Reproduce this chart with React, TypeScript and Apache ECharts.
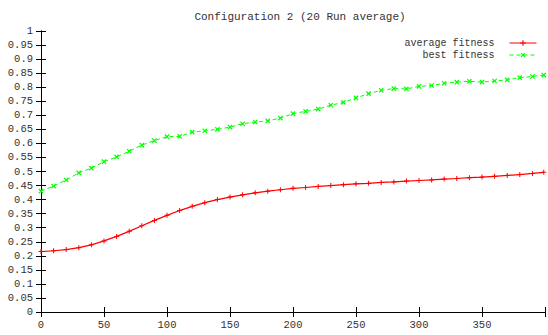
import React, { useEffect, useRef } from "react";
import * as echarts from "echarts";

const titleText = "Configuration 2 (20 Run average)";
const seriesNames = ["average fitness", "best fitness"];
const generations = [
  0, 10, 20, 30, 40, 50, 60, 70, 80, 90, 100, 110, 120, 130, 140, 150, 160, 170, 180, 190,
  200, 210, 220, 230, 240, 250, 260, 270, 280, 290, 300, 310, 320, 330, 340, 350, 360, 370, 380, 390, 399,
];
const averageFitness = [
  0.215, 0.218, 0.222, 0.229, 0.239, 0.253, 0.269, 0.287, 0.307, 0.326, 0.344, 0.361, 0.376, 0.389, 0.4, 0.409,
  0.417, 0.424, 0.43, 0.435, 0.44, 0.443, 0.447, 0.45, 0.453, 0.456, 0.458, 0.461, 0.463, 0.466, 0.468, 0.47,
  0.473, 0.475, 0.478, 0.48, 0.483, 0.486, 0.489, 0.493, 0.497,
];
const bestFitness = [
  0.43, 0.448, 0.47, 0.495, 0.512, 0.535, 0.552, 0.572, 0.594, 0.61, 0.624, 0.625, 0.64, 0.645, 0.65, 0.658,
  0.67, 0.676, 0.68, 0.69, 0.706, 0.714, 0.722, 0.736, 0.746, 0.762, 0.777, 0.789, 0.795, 0.794, 0.803, 0.806,
  0.814, 0.818, 0.821, 0.818, 0.822, 0.826, 0.834, 0.838, 0.843,
];
const xTicks = { min: 0, max: 400, interval: 50 };
const yTicks = { min: 0, max: 1, interval: 0.05 };

const PLUS = "path://M2,0H3V2H5V3H3V5H2V3H0V2H2Z";
const FONT = "Liberation Mono";
const TEXT = "#333";

export default function App() {
  const ref = useRef<HTMLDivElement>(null);
  useEffect(() => {
    if (!ref.current) return;
    const chart = echarts.init(ref.current, null, { renderer: "svg" });
    const axisLine = { show: true, lineStyle: { color: "#000", width: 1 } };
    const tick = { show: true, inside: true, length: 5, lineStyle: { color: "#000", width: 1 } };
    const xFmt = (v: number) => (v >= 400 ? "" : String(v));
    const yFmt = (v: number) => String(+v.toFixed(2));
    chart.setOption({
      animation: false,
      title: {
        text: titleText,
        left: 295,
        top: 6,
        textAlign: "center",
        textStyle: { fontFamily: FONT, fontSize: 11, fontWeight: "normal", color: TEXT },
      },
      legend: {
        orient: "vertical",
        right: 6,
        top: 32,
        align: "right",
        itemWidth: 27,
        itemHeight: 7,
        itemGap: 0,
        data: [
          { name: seriesNames[0], lineStyle: { width: 1 } },
          { name: seriesNames[1], lineStyle: { width: 1 } },
        ],
        textStyle: {
          fontFamily: FONT,
          fontSize: 10,
          color: TEXT,
          lineHeight: 12,
          padding: [0, 10, 0, 0],
        },
      },
      grid: { left: 41, right: -3.5, top: 31, bottom: 23, containLabel: false },
      xAxis: [
        {
          type: "value",
          position: "bottom",
          ...xTicks,
          axisLine,
          axisTick: tick,
          splitLine: { show: false },
          axisLabel: { formatter: xFmt, margin: 7, fontFamily: FONT, fontSize: 10.5, color: TEXT },
        },
        {
          type: "value",
          position: "top",
          ...xTicks,
          axisLine,
          axisTick: tick,
          splitLine: { show: false },
          axisLabel: { show: false },
        },
      ],
      yAxis: [
        {
          type: "value",
          position: "left",
          ...yTicks,
          axisLine,
          axisTick: tick,
          splitLine: { show: false },
          axisLabel: { formatter: yFmt, margin: 8, fontFamily: FONT, fontSize: 10.5, color: TEXT },
        },
        {
          type: "value",
          position: "right",
          ...yTicks,
          axisLine,
          axisTick: tick,
          splitLine: { show: false },
          axisLabel: { show: false },
        },
      ],
      series: [
        {
          name: seriesNames[0],
          type: "line",
          data: generations.map((g, i) => [g, averageFitness[i]]),
          symbol: PLUS,
          symbolSize: 5,
          showAllSymbol: true,
          lineStyle: { color: "#ff0000", width: 1.2 },
          itemStyle: { color: "#ff0000" },
        },
        {
          name: seriesNames[1],
          type: "line",
          data: generations.map((g, i) => [g, bestFitness[i]]),
          symbol: PLUS,
          symbolSize: 6,
          symbolRotate: 45,
          showAllSymbol: true,
          lineStyle: { color: "#00ff00", width: 1, type: [4, 3] },
          itemStyle: { color: "#00ff00" },
        },
      ],
    });
    return () => chart.dispose();
  }, []);
  return <div ref={ref} style={{ position: "absolute", left: 0, top: 0, width: 548, height: 335 }} />;
}
